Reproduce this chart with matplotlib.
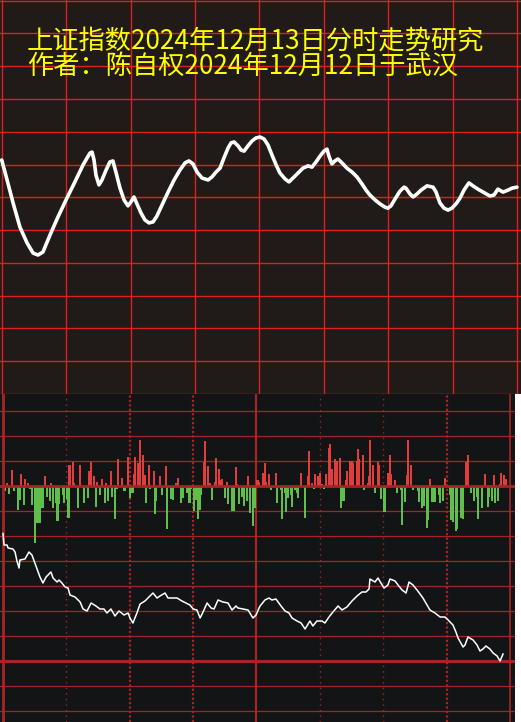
import matplotlib
matplotlib.use("Agg")
import matplotlib.pyplot as plt

plt.rcParams['font.family'] = ['Noto Sans CJK SC', 'DejaVu Sans']

title1 = "上证指数2024年12月13日分时走势研究"
title2 = "作者：陈自权2024年12月12日于武汉"

# forecast curve (top panel): minute of session, value in grid units
fc_min = [0, 2.5, 5.3, 8.5, 11.8, 14.6, 16.9, 19.2, 22.5, 26.2, 30.4, 34.1, 37.9, 41.1,
          42.1, 43.0, 43.9, 45.3, 46.7, 48.6, 50.4, 51.8, 53.2, 55.1, 57.0, 58.8, 60.2,
          61.6, 63.0, 64.9, 66.7, 68.6, 70.5, 72.3, 74.7, 77.5, 80.3, 83.0, 85.4, 87.2,
          89.1, 91.0, 93.3, 96.1, 97.9, 99.8, 101.7, 103.5, 105.4, 106.8, 108.2, 110.1,
          111.5, 112.9, 114.7, 116.6, 118.4, 120.3, 122.2, 124.0, 125.9, 127.8, 129.6,
          132.0, 133.8, 135.7, 138.0, 140.3, 142.7, 144.5, 146.4, 148.3, 150.1, 151.5,
          152.4, 153.8, 155.2, 156.6, 158.5, 160.8, 163.2, 165.5, 167.8, 169.7, 171.5,
          173.9, 176.2, 178.5, 179.9, 181.3, 183.2, 185.5, 187.4, 188.3, 190.2, 191.6,
          193.4, 195.3, 198.1, 200.9, 202.3, 204.1, 206.0, 207.9, 209.7, 211.6, 213.5,
          215.3, 217.6, 219.5, 221.8, 224.2, 227.4, 229.3, 231.1, 233.5, 235.8, 237.7, 240.0]
fc_val = [7.14, 6.53, 5.83, 5.09, 4.61, 4.30, 4.24, 4.33, 4.85, 5.40, 5.98, 6.47, 6.99, 7.35,
          7.38, 7.14, 6.68, 6.38, 6.53, 6.83, 7.08, 7.11, 6.77, 6.28, 5.92, 5.74, 5.86,
          6.01, 5.80, 5.52, 5.31, 5.22, 5.25, 5.43, 5.77, 6.16, 6.53, 6.83, 7.05, 7.11,
          7.02, 6.77, 6.59, 6.53, 6.62, 6.77, 6.89, 7.20, 7.50, 7.66, 7.69, 7.57,
          7.44, 7.41, 7.57, 7.72, 7.81, 7.84, 7.78, 7.60, 7.29, 6.99, 6.74,
          6.56, 6.47, 6.59, 6.74, 6.89, 6.96, 6.92, 7.08, 7.26, 7.41, 7.47,
          7.26, 7.02, 7.11, 7.17, 7.05, 6.89, 6.77, 6.62, 6.41, 6.22, 6.07,
          5.92, 5.80, 5.70, 5.67, 5.74, 5.95, 6.19, 6.31, 6.28, 6.10, 6.01,
          6.10, 6.22, 6.35, 6.31, 6.16, 5.83, 5.67, 5.61, 5.67, 5.80, 5.98,
          6.22, 6.44, 6.35, 6.25, 6.16, 6.04, 6.07, 6.25, 6.16, 6.22, 6.28, 6.31]

# buy / sell bars (bottom panel)
up_min = [2.1, 4.3, 8.5, 10.4, 11.8, 19.9, 22.7, 31.5, 33.1, 33.8, 36.4, 40.7, 41.7, 43.1,
          44.5, 46.9, 48.8, 51.1, 54.4, 56.3, 59.2, 62.0, 62.5, 63.9, 64.9, 66.3, 67.0,
          69.1, 71.5, 74.3, 77.2, 81.9, 82.8, 95.1, 95.6, 97.0, 98.0, 100.4, 100.8, 102.2,
          103.2, 103.7, 106.0, 110.3, 110.8, 116.0, 120.5, 121.2, 123.3, 124.0, 124.5,
          125.9, 129.2, 141.1, 144.4, 144.9, 146.3, 147.7, 149.3, 150.1, 151.0, 152.9,
          154.3, 154.8, 155.7, 157.2, 158.1, 159.5, 162.4, 162.8, 164.5, 165.2, 165.7,
          167.6, 168.0, 168.5, 170.4, 172.8, 173.3, 173.7, 175.1, 177.5, 178.0, 182.5,
          183.2, 183.7, 185.6, 191.2, 191.7, 193.1, 202.1, 209.2, 219.4, 220.1, 228.2,
          232.4, 235.3, 235.7, 237.2, 238.1]
up_val = [0.13, 0.64, 0.48, 0.27, 0.13, 0.40, 0.13, 0.84, 0.97, 0.13, 0.84, 0.60, 0.97, 0.40,
          0.17, 0.28, 0.13, 0.60, 1.08, 0.32, 1.16, 0.48, 1.15, 0.93, 1.84, 1.24, 0.44,
          0.84, 0.60, 0.40, 0.80, 0.13, 0.32, 0.97, 1.80, 0.80, 0.13, 0.17, 1.13, 0.68,
          0.24, 0.28, 0.17, 0.76, 0.08, 0.40, 0.24, 0.17, 0.53, 0.93, 0.17,
          0.48, 0.53, 0.53, 0.40, 1.40, 0.13, 0.48, 0.40, 0.51, 0.08, 0.48,
          1.53, 1.68, 0.68, 1.08, 1.00, 1.12, 0.24, 0.60, 1.00, 1.00, 0.93,
          1.00, 1.48, 1.08, 1.24, 0.13, 0.40, 1.84, 0.84, 0.97, 0.84, 0.51,
          1.24, 0.48, 0.24, 0.44, 1.84, 0.84, 0.28, 0.32, 0.97, 1.24, 0.48,
          0.44, 0.08, 0.53, 0.44, 0.28]

down_min = [0.7, 2.8, 5.2, 7.1, 7.8, 9.9, 12.8, 13.7, 15.1, 15.9, 17.3, 18.0, 18.7, 20.8,
            22.2, 23.7, 25.1, 25.8, 26.5, 28.2, 28.9, 30.3, 31.0, 35.3, 38.3, 40.2, 44.0,
            45.9, 48.3, 49.7, 51.8, 53.0, 54.0, 57.5, 60.1, 61.3, 67.7, 69.6, 71.9, 72.6,
            75.3, 77.6, 79.5, 80.5, 84.3, 85.4, 87.3, 88.3, 89.0, 90.4, 91.1, 92.3, 93.0,
            93.7, 98.9, 105.1, 106.5, 108.3, 109.2, 111.7, 113.1, 114.1, 115.5, 116.9,
            118.3, 119.1, 126.9, 129.7, 131.6, 132.1, 133.5, 134.0, 134.9, 136.3, 136.8,
            138.2, 139.1, 139.6, 143.0, 147.2, 152.0, 160.0, 161.0, 161.4, 170.9, 176.1,
            178.9, 180.4, 180.8, 186.5, 188.4, 188.9, 190.3, 194.1, 196.4, 196.9, 198.3,
            199.3, 200.7, 201.2, 202.9, 203.8, 204.7, 206.5, 206.9, 208.3, 211.6, 212.1,
            213.0, 214.4, 214.9, 216.8, 217.7, 221.5, 222.9, 224.4, 224.9, 226.7, 229.6,
            230.1, 231.5, 232.9, 234.3]
down_val = [0.19, 0.31, 0.20, 0.97, 0.57, 0.77, 0.10, 0.77, 2.28, 1.47, 1.47, 0.67, 0.87, 0.44,
            0.61, 0.87, 0.67, 1.41, 0.71, 0.35, 0.67, 0.51, 1.28, 0.87, 0.67, 0.47, 0.83,
            0.35, 0.67, 0.61, 0.44, 1.31, 0.13, 0.19, 0.47, 0.27, 0.67, 0.10, 1.10, 0.61,
            0.35, 1.70, 0.50, 0.57, 0.67, 0.47, 0.29, 0.67, 0.10, 1.00, 0.57, 1.33, 0.97,
            0.35, 0.57, 0.47, 0.71, 1.00, 1.00, 0.71, 0.44, 0.80, 0.61, 1.09,
            1.60, 0.87, 0.17, 0.69, 0.17, 1.33, 0.29, 1.04, 0.49, 0.37, 0.84,
            0.17, 0.29, 0.49, 1.29, 0.13, 0.13, 0.89, 0.60, 0.60, 0.17, 0.29,
            0.53, 1.04, 1.04, 0.29, 0.17, 1.57, 0.64, 0.17, 0.21, 0.64, 0.87,
            0.80, 1.68, 1.36, 0.64, 0.64, 0.64, 0.37, 0.69, 0.60, 0.37, 1.36,
            1.44, 1.80, 1.73, 1.28, 1.33, 0.29, 0.60, 0.44, 1.33, 0.89, 0.84,
            0.44, 0.60, 0.69, 0.60]

# intraday line (bottom panel)
px_min = [0.0, 0.5, 1.9, 2.4, 4.7, 5.7, 6.6, 7.6, 8.0, 10.4, 12.3, 13.7, 15.1, 16.1, 17.5,
          18.9, 20.4, 22.7, 23.7, 25.6, 26.5, 27.9, 29.4, 30.8, 31.7, 34.1, 36.5, 37.9,
          39.8, 41.7, 44.0, 45.9, 47.8, 49.2, 51.1, 53.0, 54.9, 57.3, 59.2, 60.1, 61.5,
          63.4, 64.9, 67.2, 69.1, 71.0, 72.9, 74.3, 76.7, 78.1, 80.5, 82.4, 84.7, 86.6,
          88.5, 90.0, 91.8, 93.3, 94.7, 96.6, 98.5, 99.9, 101.8, 104.1, 106.5, 108.4,
          110.3, 111.2, 113.6, 116.0, 118.3, 119.8, 121.2, 121.7, 124.0, 125.9, 127.3,
          129.2, 131.6, 133.5, 135.4, 136.8, 139.2, 141.1, 143.0, 145.3, 146.7, 148.6,
          151.0, 152.4, 154.3, 156.2, 158.6, 160.5, 162.8, 165.2, 167.6, 169.9, 171.8,
          173.3, 173.7, 176.1, 177.5, 178.9, 180.4, 182.2, 183.2, 185.6, 187.0, 188.9,
          190.8, 192.2, 194.1, 196.0, 197.4, 198.8, 200.7, 202.1, 204.5, 206.9, 209.2,
          210.7, 213.0, 214.4, 215.4, 217.8, 218.7, 220.1, 222.5, 224.4, 225.8, 227.2,
          228.6, 230.5, 232.0, 233.9, 235.3, 236.7]
px_val = [-1.90, -2.36, -2.36, -2.48, -2.52, -2.64, -3.00, -3.28, -2.96, -2.92, -2.64, -2.76,
          -3.08, -3.32, -3.64, -3.88, -3.64, -3.44, -3.68, -3.84, -3.76, -3.88, -4.04, -4.08,
          -4.36, -4.44, -4.64, -4.92, -5.00, -4.68, -4.80, -4.92, -4.92, -5.08, -4.92, -5.20,
          -5.00, -5.16, -5.08, -5.28, -5.48, -5.08, -4.72, -4.60, -4.44, -4.28, -4.48, -4.40,
          -4.28, -4.48, -4.48, -4.48, -4.60, -4.68, -4.76, -4.92, -4.96, -5.28, -5.04, -4.68,
          -4.88, -4.92, -4.56, -4.64, -4.68, -4.96, -4.80, -4.88, -4.92, -4.96, -5.28, -5.16,
          -4.88, -4.80, -4.56, -4.48, -4.56, -4.52, -4.80, -5.00, -5.08, -5.28, -5.40, -5.48,
          -5.72, -5.40, -5.60, -5.40, -5.40, -5.48, -5.24, -5.04, -4.80, -4.96, -4.84, -4.60,
          -4.40, -4.24, -4.24, -4.12, -3.72, -3.84, -3.68, -3.88, -4.08, -3.96, -3.72, -3.80,
          -3.96, -4.16, -4.28, -3.84, -3.96, -4.16, -4.32, -4.48, -4.76, -4.96, -5.08, -5.24,
          -5.24, -5.36, -5.56, -5.84, -6.08, -6.44, -6.36, -6.04, -6.16, -6.36, -6.60, -6.52,
          -6.40, -6.52, -6.68, -6.80, -7.00, -6.72]

W, H = 521, 722
fig = plt.figure(figsize=(W / 100, H / 100), dpi=100, facecolor="white")

# ---- top panel
ax1 = fig.add_axes([0, 328 / H, 1, 394 / H])
ax1.set_facecolor("#201a18")
ax1.set_xlim(-0.79, 241.87)
ax1.set_ylim(0, 12.02)
for x in range(0, 241, 30):
    ax1.axvline(x, color="#e01e1e", lw=1.0, zorder=1)
for y in range(0, 13):
    ax1.axhline(y, color="#e01e1e", lw=1.0, zorder=1)
ax1.plot(fc_min, fc_val, color="white", lw=2.6, solid_capstyle="round",
         solid_joinstyle="round", zorder=3)
ax1.text(0.052, 0.896, title1, transform=ax1.transAxes, color="#ffff00",
         fontsize=18.9, va="center", ha="left")
ax1.text(0.052, 0.8325, title2, transform=ax1.transAxes, color="#ffff00",
         fontsize=18.9, va="center", ha="left")
for s in ax1.spines.values():
    s.set_visible(False)
ax1.set_xticks([])
ax1.set_yticks([])

# ---- bottom panel
ax2 = fig.add_axes([0, 0, 515 / W, 328 / H])
ax2.set_facecolor("#131416")
ax2.set_xlim(-1.42, 242.37)
ax2.set_ylim(-9.44, 3.68)
grid_c = "#a82424"
for y in range(-9, 4):
    if y in (0, -7):
        continue
    ax2.axhline(y, color=grid_c, lw=0.9, zorder=1)
for x in (30, 150, 180):
    ax2.axvline(x, color=grid_c, lw=1.0, ls=(0, (1, 3)), zorder=1)
for x in (60, 90, 210):
    ax2.axvline(x, color=grid_c, lw=1.6, ls=(0, (1, 1)), zorder=1)
ax2.axvline(0, color=grid_c, lw=2.0, zorder=4)
ax2.axvline(120, color=grid_c, lw=1.6, zorder=1)
ax2.axvline(240, color=grid_c, lw=1.2, zorder=1)

ax2.bar(up_min, up_val, width=1.0, color="#e23c3c", linewidth=0, zorder=2)
ax2.bar(down_min, [-v for v in down_val], width=1.0, color="#5fbf4a", linewidth=0, zorder=2)
ax2.axhline(0, color=grid_c, lw=2.0, zorder=3)
ax2.axhline(-7, color=grid_c, lw=2.2, zorder=3)
ax2.plot(px_min, px_val, color="white", lw=1.1, zorder=5)
for s in ax2.spines.values():
    s.set_visible(False)
ax2.set_xticks([])
ax2.set_yticks([])

fig.savefig("out.png", dpi=100, facecolor=fig.get_facecolor())
